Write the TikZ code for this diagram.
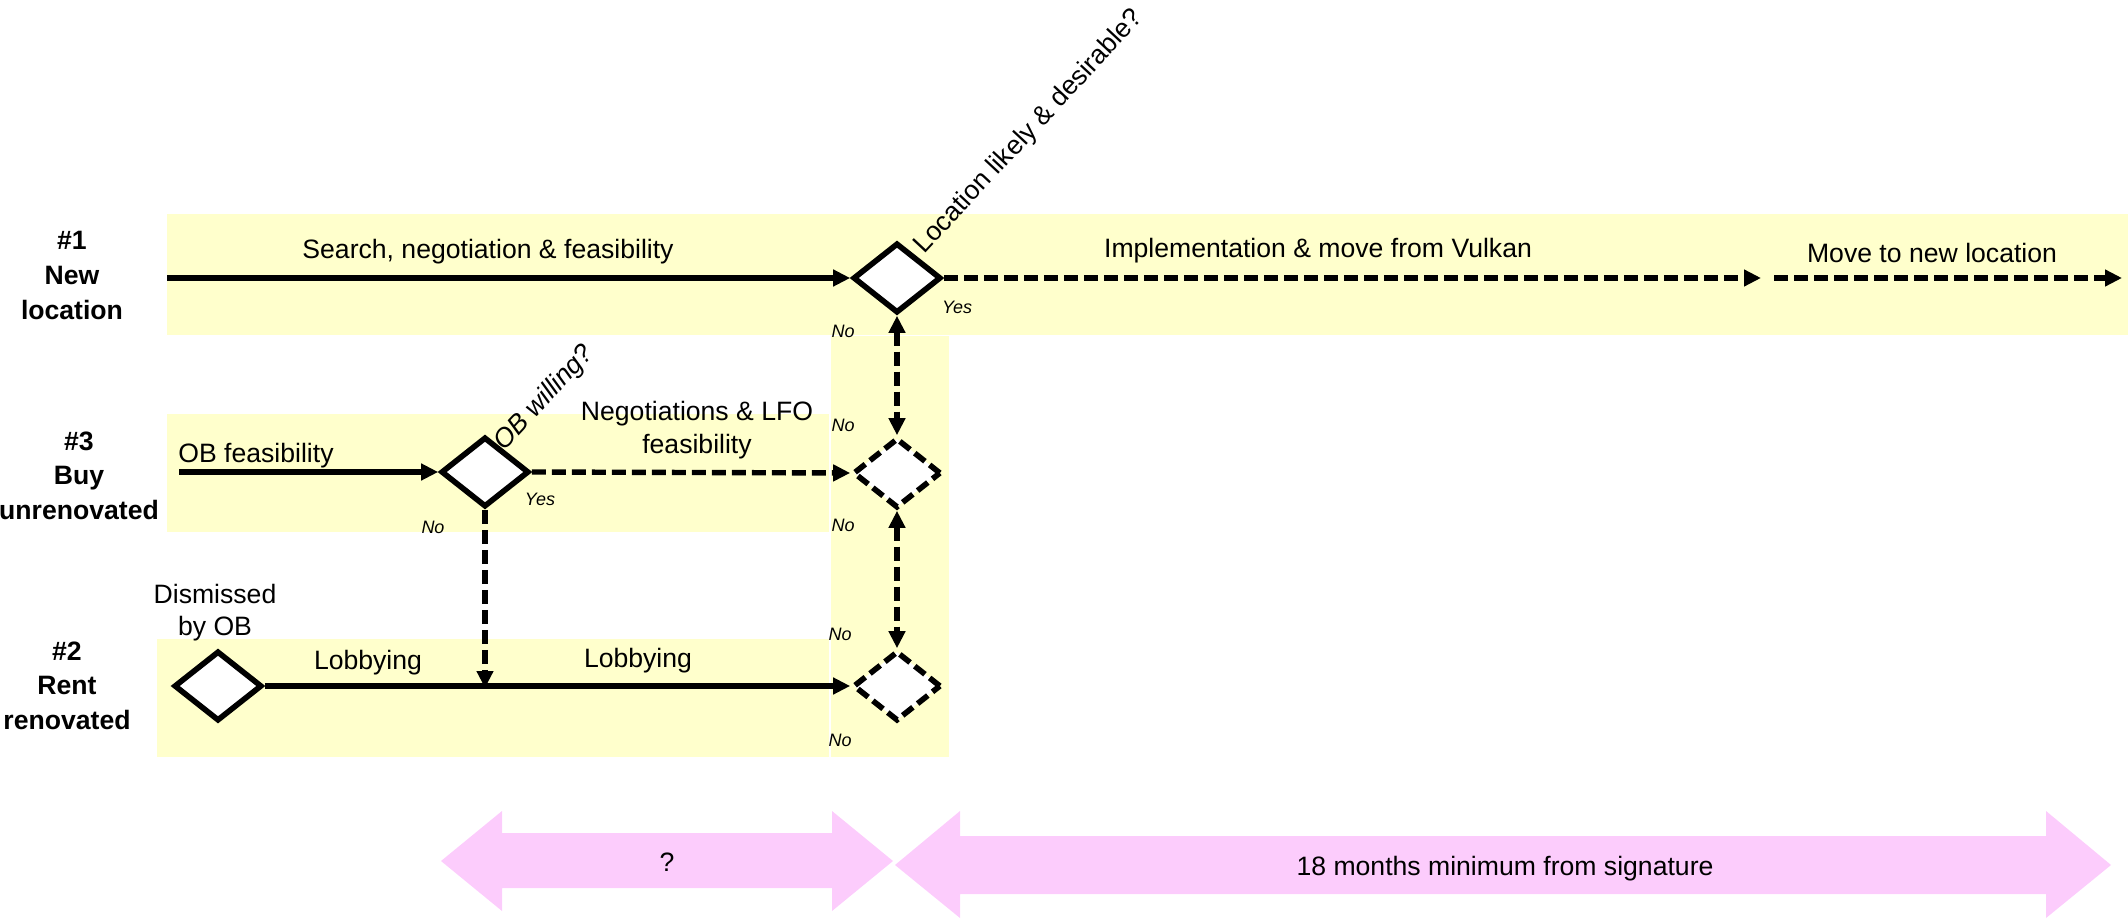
\documentclass[tikz,border=0pt]{standalone}
\usepackage{fontspec}
\setmainfont{Liberation Sans}
\usetikzlibrary{arrows.meta,shapes.geometric}

\definecolor{laneyellow}{RGB}{255,255,204}
\definecolor{spanpink}{RGB}{252,204,252}

% centred multi-line text whose reference point is the first baseline
\newcommand{\stackedtext}[1]{\begin{tabular}[t]{@{}c@{}}#1\end{tabular}}

\begin{document}
\begin{tikzpicture}[x=0.5pt,y=-0.5pt,
  lane/.style={fill=laneyellow},
  span/.style={fill=spanpink},
  decision/.style={diamond, draw=black, fill=white, line width=2.8pt,
    inner sep=0pt, minimum width=44pt, minimum height=35pt},
  pending/.style={decision, dash pattern=on 6.5pt off 3pt},
  tip/.tip={Triangle[length=8.5pt,width=8pt]},
  flow/.style={line width=2.7pt, -tip},
  dflow/.style={flow, dash pattern=on 7pt off 3pt},
  twoway/.style={dflow, tip-tip},
  txt/.style={inner sep=0pt, font=\fontsize{13.3pt}{16.5pt}\selectfont},
  lanelabel/.style={inner sep=0pt, font=\fontsize{13.3pt}{17.3pt}\selectfont\bfseries},
  answer/.style={inner sep=0pt, font=\fontsize{9pt}{11pt}\selectfont\itshape},
]
\useasboundingbox (0,0) rectangle (2128,919);

% swim lanes
\fill[lane] (167,214) rectangle (2128,335);
\fill[lane] (831,336) rectangle (949,757);
\fill[lane] (167,414) rectangle (829,532);
\fill[lane] (157,639) rectangle (829,757);

% time spans
\fill[span] (441,861) -- (502,811) -- (502,833) -- (832,833) -- (832,811)
  -- (893,861) -- (832,911) -- (832,888) -- (502,888) -- (502,911) -- cycle;
\fill[span] (895,865) -- (960,811) -- (960,836) -- (2046,836) -- (2046,811)
  -- (2111,865) -- (2046,918) -- (2046,894) -- (960,894) -- (960,918) -- cycle;

% lane titles
\node[lanelabel, anchor=base] (lab1) at (72,250) {\stackedtext{\#1\\New\\location}};
\node[lanelabel, anchor=base] (lab3) at (79,450) {\stackedtext{\#3\\Buy\\unrenovated}};
\node[lanelabel, anchor=base] (lab2) at (67,660) {\stackedtext{\#2\\Rent\\renovated}};

% decisions
\node[decision] (d1) at (897,278) {};
\node[pending]  (d3) at (897,473) {};
\node[pending]  (d2) at (897,686) {};
\node[decision] (ob) at (485,472) {};
\node[decision] (ds) at (218,686) {};

% free ends of connectors
\coordinate (s1) at (167,278);
\coordinate (e1) at (1761,278);
\coordinate (s2) at (1774,278);
\coordinate (e2) at (2122,278);
\coordinate (s3) at (179,472);
\coordinate (j)  at (485,688);

% connectors
\draw[flow]  (s1) -- (d1.west);
\draw[dflow] (d1.east) -- (e1);
\draw[dflow] (s2) -- (e2);
\draw[twoway] (d1.south) -- (d3.north);
\draw[twoway] (d3.south) -- (d2.north);
\draw[flow]  (s3) -- (ob.west);
\draw[dflow] (ob.east) -- (d3.west);
\draw[dflow] (ob.south) -- (j);
\draw[flow]  (ds.east) -- (d2.west);

% activity labels
\node[txt, anchor=base] (t-search) at (488,259) {Search, negotiation \& feasibility};
\node[txt, anchor=base] (t-impl) at (1318,258) {Implementation \& move from Vulkan};
\node[txt, anchor=base] (t-move) at (1932,263) {Move to new location};
\node[txt, anchor=base west, rotate=47] (q1) at (924,255) {Location likely \& desirable?};
\node[txt, anchor=base] (t-obf) at (256,462) {OB feasibility};
\node[txt, anchor=base west, rotate=47, font=\fontsize{13.3pt}{16.5pt}\selectfont\itshape] (q3) at (504,452) {OB willing?};
\node[txt, anchor=base] (t-neg) at (697,420) {\stackedtext{Negotiations \& LFO\\feasibility}};
\node[txt, anchor=base, font=\fontsize{13.3pt}{16pt}\selectfont] (t-dis) at (215,603) {\stackedtext{Dismissed\\by OB}};
\node[txt, anchor=base] (t-lob1) at (368,669) {Lobbying};
\node[txt, anchor=base] (t-lob2) at (638,667) {Lobbying};
\node[txt, anchor=base] (t-q) at (667,871) {?};
\node[txt, anchor=base] (t-18) at (1505,875) {18 months minimum from signature};

% answers at the decisions
\node[answer] (y1) at (957,307) {Yes};
\node[answer] (n1) at (843,331) {No};
\node[answer] (n2) at (843,425) {No};
\node[answer] (n3) at (843,525) {No};
\node[answer] (n4) at (840,634) {No};
\node[answer] (n5) at (840,740) {No};
\node[answer] (y3) at (540,499) {Yes};
\node[answer] (n6) at (433,527) {No};
\end{tikzpicture}
\end{document}
